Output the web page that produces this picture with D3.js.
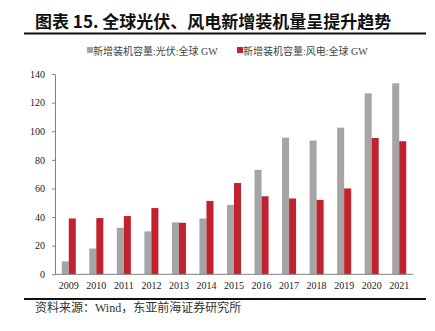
<!DOCTYPE html>
<html><head><meta charset="utf-8">
<script src="https://cdn.jsdelivr.net/npm/d3@7"></script>
<style>body{margin:0;background:#fff}svg{display:block}</style>
</head><body>
<svg id="c" width="435" height="331"></svg>
<script>
const years = ["2009","2010","2011","2012","2013","2014","2015","2016","2017","2018","2019","2020","2021"];
const solar = [9,18,32.5,30,36.3,39,48.5,73,95.5,93.5,102.5,126.5,133.5];
const wind = [39,39.3,40.7,46.3,36,51.3,63.8,54.5,53,52,60,95.3,93];
const yTicks = [0,20,40,60,80,100,120,140];
const seriesNames = ["新增装机容量:光伏:全球 GW","新增装机容量:风电:全球 GW"];
const colors = ["#a5a5a5","#c1232e"];
const titleText = "图表 15. 全球光伏、风电新增装机量呈提升趋势";
const sourceText = "资料来源：Wind，东亚前海证券研究所";

(function(){
const svg = d3.select("#c");
const cjk = "'Liberation Serif','Noto Sans CJK SC',serif";
const mL = 55, mR = 413, mT = 74, mB = 274.3;

svg.append("text").attr("x",35).attr("y",28).attr("font-family","'Noto Sans CJK SC','Liberation Sans',sans-serif")
  .attr("font-weight","bold").attr("font-size",17).attr("fill","#111").text(titleText);
svg.append("line").attr("x1",24).attr("x2",426).attr("y1",33.5).attr("y2",33.5).attr("stroke","#111").attr("stroke-width",2);

const lg = [[87,seriesNames[0],colors[0]],[237,seriesNames[1],colors[1]]];
lg.forEach(([x,t,c])=>{
  svg.append("rect").attr("x",x).attr("y",47).attr("width",6).attr("height",6).attr("fill",c);
  svg.append("text").attr("x",x+6).attr("y",55).attr("font-family",cjk).attr("font-size",10).attr("fill","#444").text(t);
});

const x = d3.scaleBand().domain(years).range([mL,mR]).paddingInner(0.49).paddingOuter(0.245);
const y = d3.scaleLinear().domain([0,140]).range([mB,mT]);
const bw = x.bandwidth()/2;

const g = svg.append("g");
years.forEach((yr,i)=>{
  g.append("rect").attr("x",x(yr)).attr("y",y(solar[i])).attr("width",bw).attr("height",y(0)-y(solar[i])).attr("fill",colors[0]);
  g.append("rect").attr("x",x(yr)+bw).attr("y",y(wind[i])).attr("width",bw).attr("height",y(0)-y(wind[i])).attr("fill",colors[1]);
});

const ya = svg.append("g").attr("transform",`translate(${mL},0)`)
  .call(d3.axisLeft(y).tickValues(yTicks).tickSize(3).tickSizeOuter(0).tickPadding(7));
ya.select(".domain").attr("stroke","#808080");
ya.selectAll(".tick line").attr("stroke","#808080");
ya.selectAll("text").attr("font-family","'Liberation Serif',serif").attr("font-size",10).attr("fill","#222");

const xa = svg.append("g").attr("transform",`translate(0,${mB})`)
  .call(d3.axisBottom(x).tickSize(0).tickPadding(8));
xa.select(".domain").attr("stroke","#808080").attr("d",`M${mL},0H${mR}`);
xa.selectAll("text").attr("font-family","'Liberation Serif',serif").attr("font-size",10).attr("fill","#222");

svg.append("line").attr("x1",24).attr("x2",426).attr("y1",299).attr("y2",299).attr("stroke","#111").attr("stroke-width",2);
svg.append("text").attr("x",35).attr("y",312).attr("font-family",cjk).attr("font-size",12).attr("fill","#333").text(sourceText);
})();
</script>
</body></html>
